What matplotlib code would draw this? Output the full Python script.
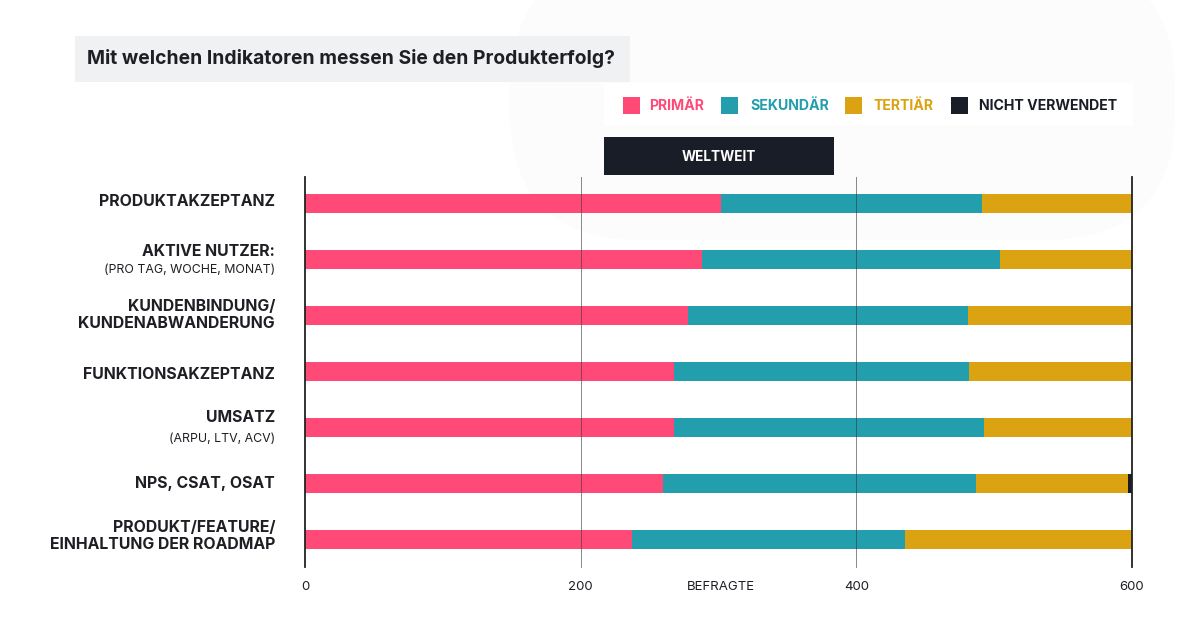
# -*- coding: utf-8 -*-
"""Produkterfolg: stacked bars, Befragte weltweit."""

import matplotlib
matplotlib.use("Agg")
from matplotlib import pyplot as plt
from matplotlib.patches import Rectangle, FancyBboxPatch
from matplotlib.transforms import IdentityTransform
import numpy as np

W, H = 1200, 618

title = "Mit welchen Indikatoren messen Sie den Produkterfolg?"
panel = "WELTWEIT"
x_label = "BEFRAGTE"
x_ticks = [0, 200, 400, 600]

cat_lines = [
    ["PRODUKTAKZEPTANZ"],
    ["AKTIVE NUTZER:"],
    ["KUNDENBINDUNG/", "KUNDENABWANDERUNG"],
    ["FUNKTIONSAKZEPTANZ"],
    ["UMSATZ"],
    ["NPS, CSAT, OSAT"],
    ["PRODUKT/FEATURE/", "EINHALTUNG DER ROADMAP"],
]
cat_sub = ["", "(PRO TAG, WOCHE, MONAT)", "", "", "(ARPU, LTV, ACV)", "", ""]

primaer = [302, 288, 278, 267.5, 267.5, 260, 237]
sekundaer = [189.5, 216, 203, 214.5, 225, 227, 198]
tertiaer = [108.5, 96, 119, 118, 107.5, 110, 165]
nicht = [0, 0, 0, 0, 0, 3, 0]

series_names = ["PRIMÄR", "SEKUNDÄR", "TERTIÄR", "NICHT VERWENDET"]
colors = ["#FF4A78", "#229EAD", "#DBA311", "#191D27"]

FONT = "Inter"
DARK = "#1E1E24"

# pixel rows of the label lines, they do not sit evenly in the reference
label_y = [[202], [252], [307, 324], [374.5], [418], [483.5], [527.5, 544.5]]
sub_y = [None, 270, None, None, 439, None, None]


def fx(px):
    return px / W


def fy(py):
    return 1 - py / H


def add_box(fig, x0, y0, x1, y1, color):
    fig.patches.append(Rectangle((fx(x0), fy(y1)), (x1 - x0) / W, (y1 - y0) / H,
                                 transform=fig.transFigure, facecolor=color,
                                 edgecolor="none"))


fig = plt.figure(figsize=(W / 100, H / 100), dpi=100, facecolor="white")

# faint backdrop shape, top right
fig.patches.append(FancyBboxPatch((510, H - 240), 665, 280, boxstyle="round,pad=0,rounding_size=130",
                                  transform=IdentityTransform(), facecolor="#FCFCFC",
                                  edgecolor="none"))

add_box(fig, 75, 36, 630, 82, "#F0F1F3")
fig.text(fx(87), fy(58.5), title, fontsize=13.9, fontweight="bold", family=FONT,
         color=DARK, va="center", ha="left")

# legend
add_box(fig, 604, 83, 1133, 126, "white")
swatch_x = [622.5, 721, 845, 950.5]
text_x = [649, 750, 873, 979]
for name, col, sx, tx in zip(series_names, colors, swatch_x, text_x):
    add_box(fig, sx, 96.5, sx + 17, 113.5, col)
    fig.text(fx(tx), fy(106.5), name, fontsize=10.2, fontweight="bold", family=FONT,
             color=col, va="center", ha="left")

# panel header
add_box(fig, 604, 136.5, 834, 175, colors[3])
fig.text(fx(719), fy(157), panel, fontsize=9.8, fontweight="bold", family=FONT,
         color="white", va="center", ha="center")

# chart area in pixels: x 305..1132, y 177..567
ax = fig.add_axes([fx(305), fy(567), (1132 - 305) / W, (567 - 177) / H], zorder=5)
ax.patch.set_alpha(0)
row_step = 55.92
ax.set_xlim(0, 600)
ax.set_ylim((567 - 203.5) / row_step, (177 - 203.5) / row_step)

y = np.arange(len(primaer))
left = np.zeros(len(primaer))
for vals, col in zip([primaer, sekundaer, tertiaer, nicht], colors):
    ax.barh(y, vals, left=left, height=19 / row_step, color=col, linewidth=0, zorder=2)
    left = left + np.array(vals)

for t in x_ticks:
    edge = t in (0, 600)
    ax.axvline(t, color="#222222" if edge else "#3A3A3A", lw=1.3 if edge else 0.7,
               alpha=1 if edge else 0.6, zorder=3, clip_on=False)

for s in ax.spines.values():
    s.set_visible(False)
ax.set_yticks([])
ax.set_xticks(x_ticks)
ax.set_xticklabels([str(t) for t in x_ticks], fontsize=9.5, family=FONT, color=DARK)
ax.tick_params(axis="x", length=0, pad=10)
ax.set_xlabel(x_label, fontsize=9.5, family=FONT, color=DARK, va="center")
ax.xaxis.set_label_coords((720.5 - 305) / (1132 - 305), -(586.5 - 567) / (567 - 177))

# category labels, right aligned at x=275
for lines, ys, sub, sy in zip(cat_lines, label_y, cat_sub, sub_y):
    for line, py in zip(lines, ys):
        fig.text(fx(275), fy(py), line, fontsize=11.4, fontweight="bold", family=FONT,
                 color=DARK, ha="right", va="center")
    if sub:
        fig.text(fx(275), fy(sy), sub, fontsize=8.9, family=FONT,
                 color=DARK, ha="right", va="center")

fig.savefig("out.png", dpi=100)
